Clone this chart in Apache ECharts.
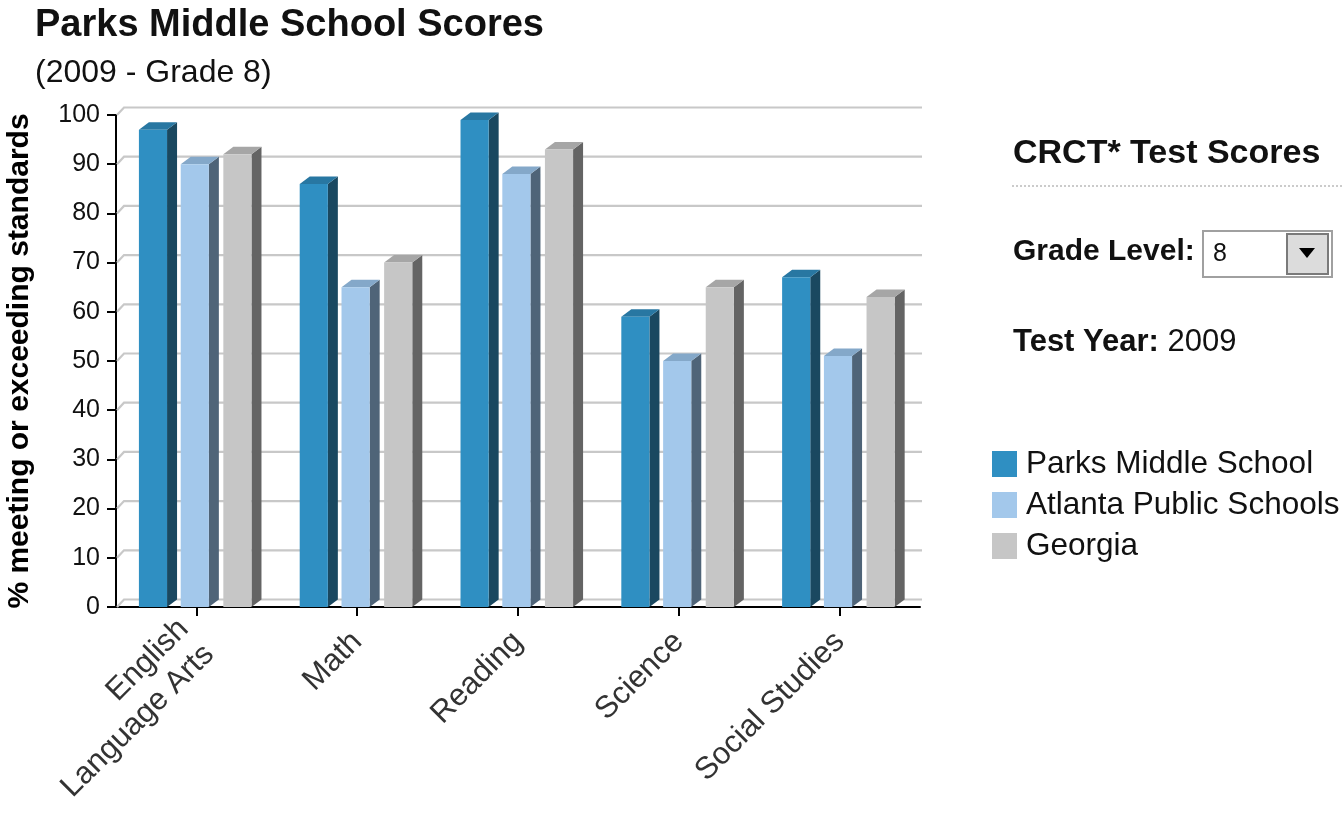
<!DOCTYPE html>
<html>
<head>
<meta charset="utf-8">
<script src="https://cdn.jsdelivr.net/npm/echarts@6/dist/echarts.min.js"></script>
<style>
html,body{margin:0;padding:0;background:#fff;}
#chart{width:1344px;height:840px;}
</style>
</head>
<body>
<div id="chart"></div>
<script>
// ---- data ----
const categories = ['English\nLanguage Arts', 'Math', 'Reading', 'Science', 'Social Studies'];
const seriesNames = ['Parks Middle School', 'Atlanta Public Schools', 'Georgia'];
const parksValues = [97, 86, 99, 59, 67];
const apsValues = [90, 65, 88, 50, 51];
const georgiaValues = [92, 70, 93, 65, 63];
const yTicks = [0, 10, 20, 30, 40, 50, 60, 70, 80, 90, 100];

const FONT = '"Liberation Sans", Arial, sans-serif';
const palettes = [
  {front: '#2f8fc2', side: '#1a4860', top: '#2877a2'},
  {front: '#a3c8eb', side: '#4f6478', top: '#84a8c9'},
  {front: '#c6c6c6', side: '#646464', top: '#a6a6a6'}
];
const offsets = [-0.27, -0.01, 0.255];
const BAR_W = 0.175, DX = 10, DY = 7.5;

function bar3D(idx) {
  const pal = palettes[idx];
  return function (params, api) {
    const ci = api.value(0), v = api.value(1);
    const top = api.coord([ci, v]);
    const base = api.coord([ci, 0]);
    const cw = api.size([1, 0])[0];
    const w = cw * BAR_W;
    const cx = top[0] + offsets[idx] * cw;
    const x0 = cx - w / 2, x1 = cx + w / 2;
    const y0 = top[1], yb = base[1];
    return {
      type: 'group',
      children: [
        {type: 'polygon', shape: {points: [[x1, y0], [x1 + DX, y0 - DY], [x1 + DX, yb - DY], [x1, yb]]},
          style: {fill: pal.side}},
        {type: 'polygon', shape: {points: [[x0, y0], [x0 + DX, y0 - DY], [x1 + DX, y0 - DY], [x1, y0]]},
          style: {fill: pal.top}},
        {type: 'rect', shape: {x: x0, y: y0, width: w, height: yb - y0},
          style: {fill: pal.front}}
      ]
    };
  };
}

function wallLines(params, api) {
  const t = api.value(1);
  const p = api.coord([0, t]);
  const cw = api.size([1, 0])[0];
  const x0 = p[0] - cw / 2;
  const xEnd = x0 + cw * categories.length + 2;
  return {
    type: 'polyline',
    shape: {points: [[x0 + 1, p[1]], [x0 + 8, p[1] - DY], [xEnd, p[1] - DY]]},
    style: {stroke: '#c8c8c8', lineWidth: 2.2, fill: null}
  };
}

const valueSets = [parksValues, apsValues, georgiaValues];
const barSeries = seriesNames.map((name, i) => ({
  name: name,
  type: 'custom',
  renderItem: bar3D(i),
  itemStyle: {color: palettes[i].front},
  encode: {x: 0, y: 1},
  data: valueSets[i].map((v, ci) => [ci, v]),
  z: 3,
  silent: true
}));

const chart = echarts.init(document.getElementById('chart'), null, {renderer: 'canvas'});
chart.setOption({
  animation: false,
  backgroundColor: '#ffffff',
  grid: {left: 116, right: 424, top: 115, bottom: 233, containLabel: false, outerBoundsMode: 'none'},
  xAxis: {
    type: 'category',
    data: categories,
    axisLine: {show: true, lineStyle: {color: '#000', width: 2}},
    axisTick: {show: true, alignWithLabel: true, length: 9, lineStyle: {color: '#000', width: 2}},
    axisLabel: {rotate: 45, fontSize: 31, fontFamily: FONT, color: '#333', margin: 30, lineHeight: 36},
    splitLine: {show: false}
  },
  yAxis: {
    type: 'value',
    min: 0, max: 100, interval: 10,
    name: '% meeting or exceeding standards',
    nameLocation: 'middle',
    nameGap: 81,
    nameRotate: 90,
    nameTextStyle: {fontSize: 30, fontWeight: 'bold', fontFamily: FONT, color: '#000'},
    axisLine: {show: true, lineStyle: {color: '#000', width: 2}},
    axisTick: {show: true, length: 9, lineStyle: {color: '#000', width: 2}},
    axisLabel: {fontSize: 25, fontFamily: FONT, color: '#111', margin: 16},
    splitLine: {show: false}
  },
  legend: {
    orient: 'vertical',
    left: 987, top: 443,
    icon: 'rect',
    itemWidth: 25, itemHeight: 26, itemGap: 9,
    selectedMode: false,
    textStyle: {fontSize: 31.5, lineHeight: 30, fontFamily: FONT, color: '#111', padding: [0, 0, 0, 4]},
    data: seriesNames
  },
  graphic: [
    {type: 'text', left: 35, top: 7, style: {text: 'Parks Middle School Scores', font: 'bold 38px ' + FONT, fill: '#111'}},
    {type: 'text', left: 35, top: 57, style: {text: '(2009 - Grade 8)', font: '32px ' + FONT, fill: '#111'}},
    {type: 'text', left: 1013, top: 137, style: {text: 'CRCT* Test Scores', font: 'bold 34px ' + FONT, fill: '#111'}},
    {type: 'line', shape: {x1: 1012, y1: 186, x2: 1344, y2: 186}, style: {stroke: '#bbbbbb', lineWidth: 1.5, lineDash: [2, 2]}},
    {type: 'text', left: 1013, top: 237, style: {text: 'Grade Level:', font: 'bold 30px ' + FONT, fill: '#111'}},
    {type: 'rect', shape: {x: 1203, y: 231, width: 129, height: 46}, style: {fill: '#fff', stroke: '#a0a0a0', lineWidth: 2}},
    {type: 'rect', shape: {x: 1287, y: 234, width: 41, height: 40}, style: {fill: '#dcdcdc', stroke: '#7a7a7a', lineWidth: 2}},
    {type: 'polygon', shape: {points: [[1299, 248], [1315, 248], [1307, 258]]}, style: {fill: '#000'}},
    {type: 'text', left: 1213, top: 242, style: {text: '8', font: '25px ' + FONT, fill: '#111'}},
    {type: 'text', left: 1013, top: 327, style: {
      text: '{b|Test Year:} 2009',
      font: '31px ' + FONT, fill: '#111',
      rich: {b: {font: 'bold 31px ' + FONT, fill: '#111'}}
    }}
  ],
  series: [
    {
      type: 'custom',
      renderItem: wallLines,
      encode: {x: 0, y: 1},
      data: yTicks.map(t => [0, t]),
      z: 1,
      silent: true
    }
  ].concat(barSeries)
});
</script>
</body>
</html>
